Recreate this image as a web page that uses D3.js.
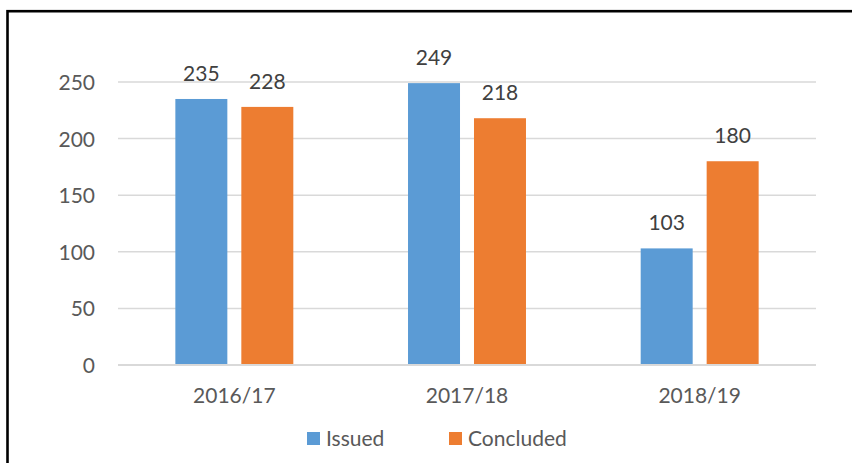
<!DOCTYPE html>
<html><head><meta charset="utf-8">
<script src="https://cdn.jsdelivr.net/npm/d3@7"></script>
<style>body{margin:0;background:#fff}svg{display:block}</style>
</head><body>
<script>
const categories = ["2016/17", "2017/18", "2018/19"];
const seriesNames = ["Issued", "Concluded"];
const issued = [235, 249, 103];
const concluded = [228, 218, 180];
const yTicks = [0, 50, 100, 150, 200, 250];
const colors = ["#5b9bd5", "#ed7d31"];

const W = 852, H = 463;
const font = "Lato, 'Open Sans', sans-serif";
const fs = 21;
const svg = d3.select("body").append("svg").attr("width", W).attr("height", H);

svg.append("rect").attr("x", 7.5).attr("y", 11.2).attr("width", 900).attr("height", 500)
  .attr("fill", "none").attr("stroke", "#000").attr("stroke-width", 2.6);

const x0 = d3.scaleBand().domain(categories).range([118, 816]).paddingInner(0.493).paddingOuter(0.2465);
const x1 = d3.scaleBand().domain(seriesNames).range([0, x0.bandwidth()]).paddingInner(0.212);
const y = d3.scaleLinear().domain([0, 250]).range([365, 82]);

// gridlines
svg.append("g").selectAll("line").data(yTicks).join("line")
  .attr("x1", 118).attr("x2", 816)
  .attr("y1", d => y(d)).attr("y2", d => y(d))
  .attr("stroke", "#d9d9d9").attr("stroke-width", 1.5);

// y labels
const yAxis = d3.axisLeft(y).tickValues(yTicks).tickSize(0).tickPadding(0);
const gy = svg.append("g").attr("transform", "translate(95,0)").call(yAxis);
gy.select(".domain").remove();
gy.selectAll("text").attr("font-family", font).attr("font-size", fs).attr("fill", "#595959").attr("dy", "0.36em");

const data = categories.map((c, i) => ({c, vals: [issued[i], concluded[i]]}));
const groups = svg.append("g").selectAll("g").data(data).join("g")
  .attr("transform", d => `translate(${x0(d.c)},0)`);
groups.selectAll("rect").data(d => d.vals.map((v, j) => ({v, s: seriesNames[j], j}))).join("rect")
  .attr("x", d => x1(d.s)).attr("width", x1.bandwidth())
  .attr("y", d => y(d.v)).attr("height", d => y(0) - y(d.v))
  .attr("fill", d => colors[d.j]);
groups.selectAll("text").data(d => d.vals.map((v, j) => ({v, s: seriesNames[j], j}))).join("text")
  .attr("x", d => x1(d.s) + x1.bandwidth() / 2).attr("y", d => y(d.v) - 18)
  .attr("text-anchor", "middle").attr("font-family", font).attr("font-size", fs).attr("fill", "#404040")
  .text(d => d.v);

// x axis
svg.append("line").attr("x1", 118).attr("x2", 816).attr("y1", y(0)).attr("y2", y(0))
  .attr("stroke", "#d9d9d9").attr("stroke-width", 2);
const xAxis = d3.axisBottom(x0).tickSize(0).tickPadding(0);
const gx = svg.append("g").attr("transform", "translate(0,403)").call(xAxis);
gx.select(".domain").remove();
gx.selectAll("text").attr("font-family", font).attr("font-size", fs).attr("fill", "#595959").attr("dy", 0);

// legend
const legX = [307, 449];
const leg = svg.append("g").selectAll("g").data(seriesNames).join("g")
  .attr("transform", (d, i) => `translate(${legX[i]},432)`);
leg.append("rect").attr("width", 13).attr("height", 13).attr("fill", (d, i) => colors[i]);
leg.append("text").attr("x", 19).attr("y", 14).attr("font-family", font).attr("font-size", fs)
  .attr("fill", "#595959").text(d => d);
</script>
</body></html>
